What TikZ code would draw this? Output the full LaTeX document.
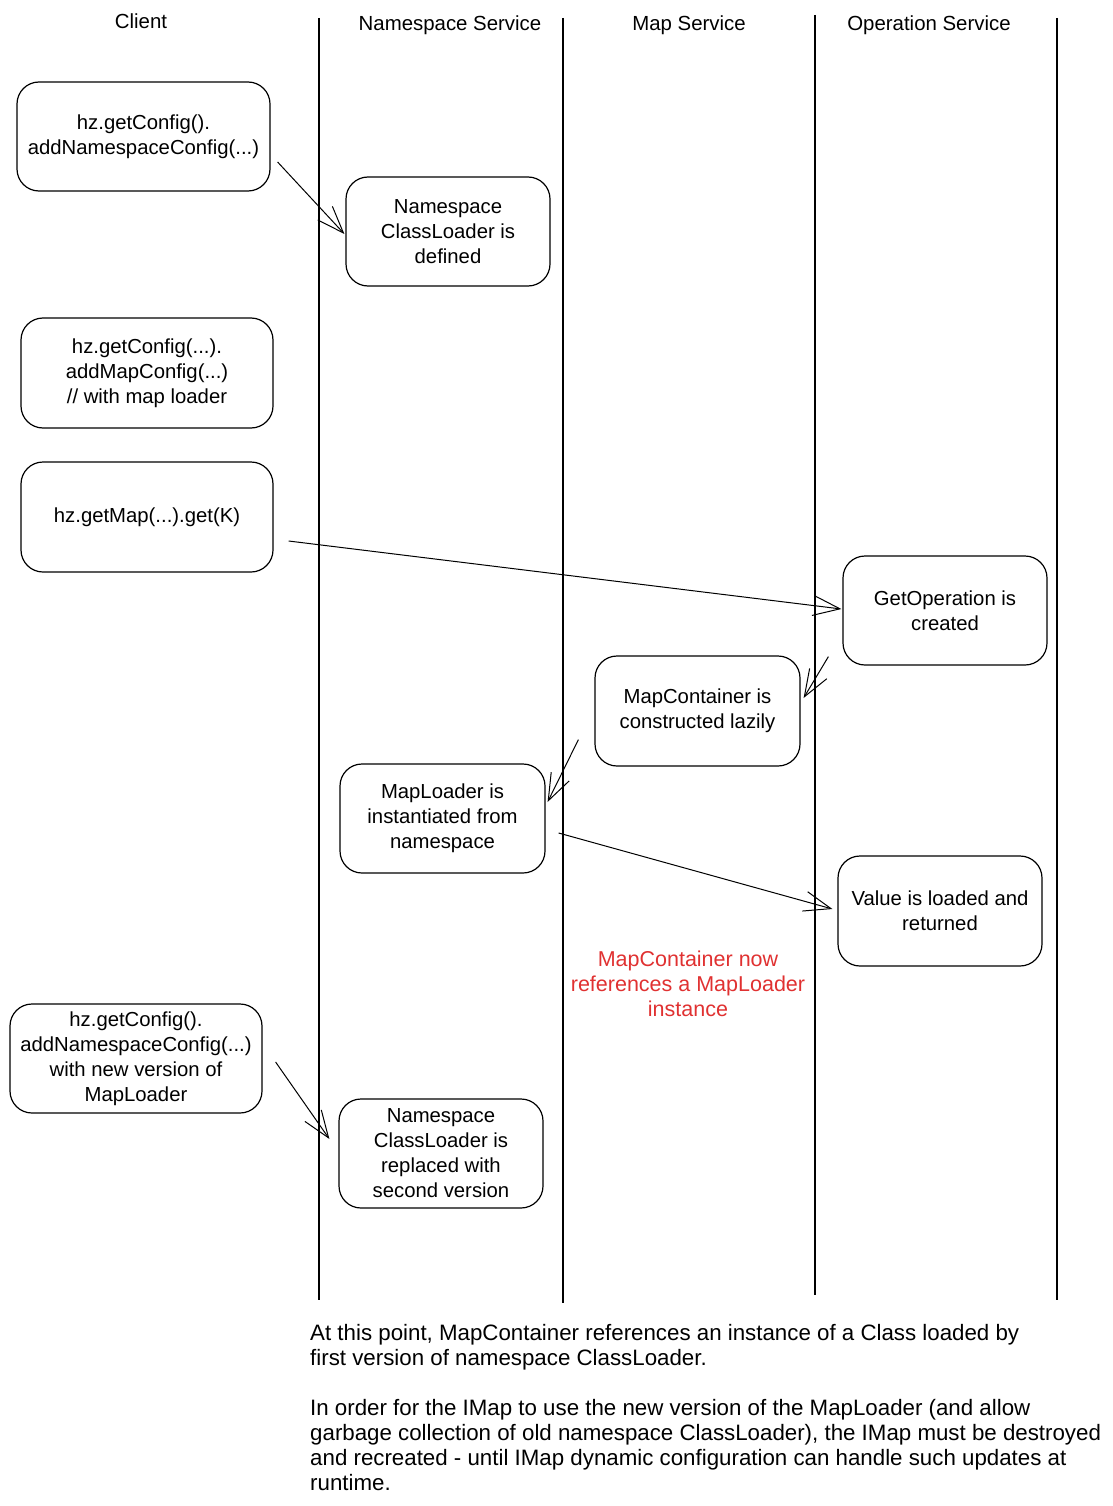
\documentclass[tikz,border=0pt]{standalone}
\usepackage{fontspec}
\setmainfont{Liberation Sans}
\usetikzlibrary{arrows.meta,calc}
\definecolor{exred}{HTML}{E03131}
\begin{document}
\begin{tikzpicture}[x=1pt,y=-1pt,
  box/.style={draw, line width=1.2pt, rounded corners=22pt, align=center, inner sep=0pt,
    font=\fontsize{20.3}{25}\selectfont, minimum width=204pt, minimum height=109pt},
  wide/.style={minimum width=252pt},
  hdr/.style={font=\fontsize{20.4}{24}\selectfont, inner sep=0pt},
  life/.style={line width=1.4pt},
  flow/.style={line width=1pt, -{Straight Barb[length=27pt,width=20pt,line width=1pt]}}]
\useasboundingbox (0,0) rectangle (1112,1506);

% lifelines
\draw[life] (319,18) -- (319,1300);
\draw[life] (563,18) -- (563,1303);
\draw[life] (815,15) -- (815,1295);
\draw[life] (1057,18) -- (1057,1300);

% headers
\node[hdr] (hclient) at (141,21) {Client};
\node[hdr] (hns) at (450,25) {Namespace Service};
\node[hdr] (hmap) at (689,25) {Map Service};
\node[hdr] (hop) at (929,25) {Operation Service};

% boxes
\node[box, wide, minimum width=253pt] (b1) at (143.5,136.5) {hz.getConfig().\\addNamespaceConfig(...)};
\node[box] (b2) at (448,231.5) {Namespace\\ClassLoader is\\defined};
\node[box, wide, minimum height=110pt] (b3) at (147,373) {hz.getConfig(...).\\addMapConfig(...)\\// with map loader};
\node[box, wide, minimum height=110pt] (b4) at (147,517) {hz.getMap(...).get(K)};
\node[box] (b5) at (945,610.5) {GetOperation is\\created};
\node[box, minimum width=205pt, minimum height=110pt] (b6) at (697.5,711) {MapContainer is\\constructed lazily};
\node[box, minimum width=205pt] (b7) at (442.5,818.5) {MapLoader is\\instantiated from\\namespace};
\node[box, minimum height=110pt] (b8) at (940,911) {Value is loaded and\\returned};
\node[box, wide] (b9) at (136,1058.5) {hz.getConfig().\\addNamespaceConfig(...)\\with new version of\\MapLoader};
\node[box] (b10) at (441,1153.5) {Namespace\\ClassLoader is\\replaced with\\second version};

% red note
\node[align=center, text=exred, inner sep=0pt, font=\fontsize{21.5}{25}\selectfont] (note) at (688,984)
  {MapContainer now\\references a MapLoader\\instance};

% bottom text
\node[align=left, anchor=north west, inner sep=0pt, font=\fontsize{22.3}{25}\selectfont] (foot) at (310,1324)
  {At this point, MapContainer references an instance of a Class loaded by\\
   first version of namespace ClassLoader.\\[25pt]
   In order for the IMap to use the new version of the MapLoader (and allow\\
   garbage collection of old namespace ClassLoader), the IMap must be destroyed\\
   and recreated - until IMap dynamic configuration can handle such updates at\\
   runtime.};

% arrows
\draw[flow] ($(b1.east)+(7,25.5)$) -- ($(b2.west)+(-1,2.5)$);
\draw[flow] ($(b4.east)+(15,24)$) -- ($(b5.west)+(-1,-1.5)$);
\draw[flow] ($(b5.south west)+(-14,-9)$) -- ($(b6.east)+(3,-13)$);
\draw[flow] ($(b6.south west)+(-16,-27)$) -- ($(b7.east)+(2,-16.5)$);
\draw[flow] ($(b7.east)+(13,14.5)$) -- ($(b8.west)+(-5,-2)$);
\draw[flow] ($(b9.east)+(13,3.5)$) -- ($(b10.west)+(-9,-14.5)$);
\end{tikzpicture}
\end{document}
